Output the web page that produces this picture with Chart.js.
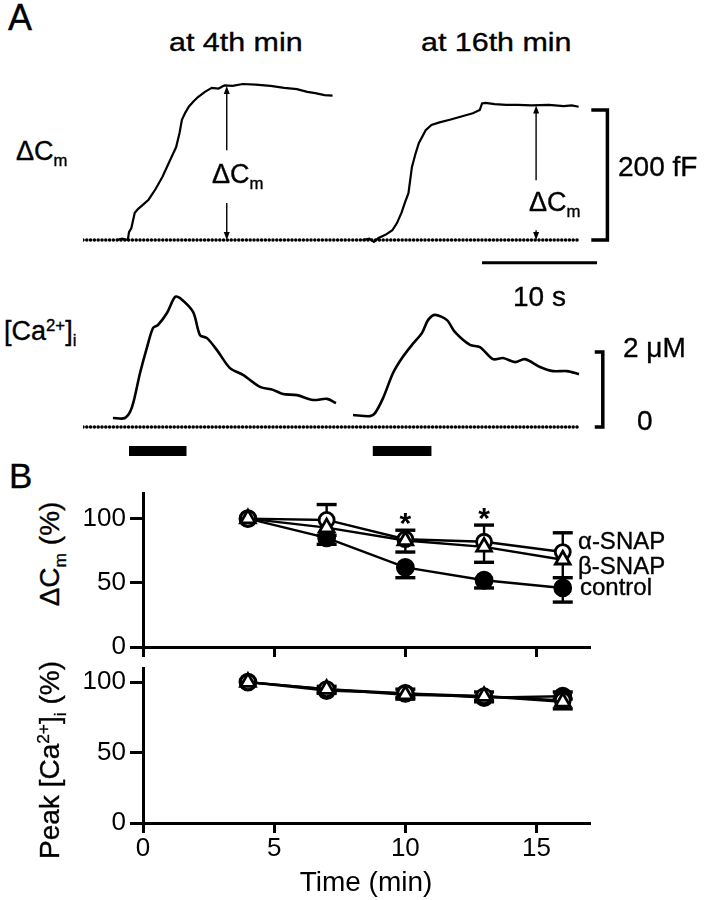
<!DOCTYPE html>
<html><head><meta charset="utf-8">
<script src="https://cdn.jsdelivr.net/npm/chart.js@4"></script>
<style>
html,body{margin:0;padding:0;background:#fff;}
body{width:706px;height:900px;position:relative;overflow:hidden;font-family:"Liberation Sans",Arial,Helvetica,sans-serif;color:#000;}
canvas{position:absolute;}
.t{position:absolute;white-space:nowrap;line-height:1;-webkit-text-stroke:0.35px #000;}
.sub{font-size:62%;position:relative;top:0.38em;}
.sup{font-size:62%;position:relative;top:-0.55em;}
.rot{position:absolute;white-space:nowrap;line-height:1;transform:translate(-50%,-50%) rotate(-90deg);-webkit-text-stroke:0.35px #000;}
</style></head><body>

<canvas id="cm" width="621" height="208" style="left:83px;top:58px"></canvas>
<canvas id="ca" width="621" height="180" style="left:83px;top:292px"></canvas>
<canvas id="bTop" width="636" height="179" style="left:70px;top:480px"></canvas>
<canvas id="bBot" width="636" height="245" style="left:70px;top:655px"></canvas>

<div class="t" style="left:8px;top:0px;font-size:36px">A</div>
<div class="t" style="left:169px;top:29px;font-size:26px;transform:scaleX(1.17);transform-origin:left">at 4th min</div>
<div class="t" style="left:421px;top:29px;font-size:26px;transform:scaleX(1.17);transform-origin:left">at 16th min</div>
<div class="t" style="left:16px;top:138px;font-size:27px">&Delta;C<span class="sub">m</span></div>
<div class="t" style="left:212px;top:161px;font-size:27px">&Delta;C<span class="sub">m</span></div>
<div class="t" style="left:529px;top:189px;font-size:27px">&Delta;C<span class="sub">m</span></div>
<div class="t" style="left:618px;top:153px;font-size:28px">200 fF</div>
<div class="t" style="left:513px;top:283px;font-size:28px">10 s</div>
<div class="t" style="left:4px;top:318px;font-size:27px">[Ca<span class="sup">2+</span>]<span class="sub">i</span></div>
<div class="t" style="left:623px;top:334px;font-size:28px">2 &mu;M</div>
<div class="t" style="left:637px;top:407px;font-size:28px">0</div>

<div class="t" style="left:9px;top:458px;font-size:35px">B</div>
<div class="rot" style="left:50px;top:554px;font-size:28px">&Delta;C<span class="sub">m</span> (%)</div>
<div class="rot" style="left:50px;top:760px;font-size:28px">Peak [Ca<span class="sup">2+</span>]<span class="sub">i</span> (%)</div>
<div class="t" style="left:578px;top:529px;font-size:24px">&alpha;-SNAP</div>
<div class="t" style="left:578px;top:554px;font-size:24px">&beta;-SNAP</div>
<div class="t" style="left:580px;top:575px;font-size:24px">control</div>

<script>
// ---------------- Panel A data (time in s) ----------------
// Capacitance traces, ΔCm in fF
const cm1Time = [2.9,3.4,3.9,4.0,4.2,4.5,4.8,5.2,5.7,6.3,6.9,7.5,8.1,8.4,8.6,8.9,9.2,9.6,10.0,10.6,11.2,11.8,12.3,13.0,13.9,15.0,16.3,17.5,18.6,19.5,20.2,21.0,21.7];
const cm1Val  = [0,2,0,12,18,42,48,54,62,78,97,120,143,165,185,196,205,213,220,228,234,233,238,237,240,239,237,234,232,228,226,223,222];
const cm2Time = [24.3,24.9,25.3,25.7,26.3,26.9,27.3,27.7,28.0,28.3,28.6,28.9,29.2,29.8,30.3,31.0,31.9,32.9,33.9,34.5,34.7,35.0,35.8,36.8,37.8,39.0,40.5,41.8,42.5,43.1];
const cm2Val  = [0,2,-3,3,8,15,26,42,58,72,112,132,149,169,177,181,185,190,195,200,210,211,209,208,208,207,208,206,207,205];
// Calcium traces, [Ca2+]i in µM
const ca1Time = [2.6,3.65,4.26,4.96,5.57,6.09,6.52,7.30,8.0,8.43,9.57,10.17,10.78,11.65,12.78,13.91,15.39,16.52,17.39,18.61,20.0,21.22,22.0];
const ca1Val  = [0.24,0.24,0.53,1.44,2.13,2.64,2.72,3.04,3.47,3.44,3.07,2.45,2.37,2.05,1.57,1.39,1.07,0.99,0.88,0.85,0.72,0.75,0.64];
const ca2Time = [23.48,24.96,25.39,26.09,26.96,27.74,28.61,29.48,30.0,30.61,31.65,32.35,33.65,34.52,35.65,36.52,37.57,38.43,39.74,40.87,42.09,43.13];
const ca2Val  = [0.32,0.29,0.37,0.77,1.44,1.84,2.19,2.51,2.85,2.99,2.85,2.53,2.19,2.13,1.81,1.84,1.73,1.81,1.60,1.49,1.49,1.41];
// Stimulus periods (s)
const stimStart = [4.0, 25.2];
const stimEnd   = [9.0, 30.3];
// ΔCm amplitude arrows: time (s) and amplitude (fF)
const arrowTime = [12.5, 39.4];
const arrowAmp  = [237, 207];
// Scale bars
const cmScaleFF = 200;   // fF
const timeScaleS = 10;   // s
const caScaleUM = 2;     // µM
const traceEnd = 43.1;   // end of recording window (s)

// ---------------- Panel B data (time in min, %) ----------------
const timeMin = [4, 7, 10, 13, 16];
const xTicksB = [0, 5, 10, 15];
const yTicksB = [0, 50, 100];
const cmAlpha = [100, 99, 84, 82, 74];
const cmAlphaErrUp = [0, 12, 7, 13, 15];
const cmBeta = [100, 93, 83, 78, 68];
const cmBetaErrDown = [0, 6, 9, 12, 14];
const cmControl = [100, 85, 62, 52, 46];
const cmControlErrDown = [0, 5, 8, 6, 11];
const sigTimes = [10, 13];
const caAlpha = [100, 95, 92, 90, 87];
const caAlphaErrUp = [0, 2, 3, 3, 6];
const caBeta = [100, 95, 91, 90, 86];
const caBetaErrDown = [0, 2, 3, 3, 5];
const caControl = [100, 94, 92, 89, 90];
const caControlErrDown = [0, 2, 3, 3, 2];

const FONT = '"Liberation Sans", Arial, Helvetica, sans-serif';
Chart.defaults.font.family = FONT;
Chart.defaults.color = '#000';
Chart.defaults.animation = false;

const pts = (xs, ys) => xs.map((x, i) => ({x, y: ys[i]}));
const line = (data, w, extra) => Object.assign({data, showLine: true, borderColor: '#000', borderWidth: w, pointRadius: 0, clip: false}, extra || {});
const hidden = (min, max) => ({type: 'linear', display: false, min, max});
const baseOpts = (xmin, xmax, ymin, ymax) => ({
  responsive: false, animation: false, events: [],
  layout: {padding: 0, autoPadding: false},
  plugins: {legend: {display: false}, tooltip: {enabled: false}},
  scales: {x: hidden(xmin, xmax), y: hidden(ymin, ymax)}
});

// ---- arrows plugin for panel A ----
const arrowPlugin = {
  id: 'arrows',
  afterDatasetsDraw(chart) {
    const {ctx, scales: {x, y}} = chart;
    const gaps = [[138, 57], [92, 15]];
    ctx.save();
    ctx.strokeStyle = '#000'; ctx.fillStyle = '#000'; ctx.lineWidth = 1.4;
    arrowTime.forEach((t, i) => {
      const px = x.getPixelForValue(t);
      const top = y.getPixelForValue(arrowAmp[i]);
      const bot = y.getPixelForValue(0);
      const g1 = y.getPixelForValue(gaps[i][0]);
      const g2 = y.getPixelForValue(gaps[i][1]);
      ctx.beginPath(); ctx.moveTo(px, top + 6); ctx.lineTo(px, g1); ctx.stroke();
      ctx.beginPath(); ctx.moveTo(px, g2); ctx.lineTo(px, bot - 6); ctx.stroke();
      ctx.beginPath(); ctx.moveTo(px, top); ctx.lineTo(px - 3, top + 8); ctx.lineTo(px + 3, top + 8); ctx.closePath(); ctx.fill();
      ctx.beginPath(); ctx.moveTo(px, bot); ctx.lineTo(px - 3, bot - 8); ctx.lineTo(px + 3, bot - 8); ctx.closePath(); ctx.fill();
    });
    ctx.restore();
  }
};

// ---- Panel A: capacitance ----
new Chart(document.getElementById('cm'), {
  type: 'scatter',
  data: {datasets: [
    line([{x: 0, y: 0}, {x: traceEnd, y: 0}], 3.6, {borderDash: [0, 3.8], borderCapStyle: 'round'}),
    line(pts(cm1Time, cm1Val), 2.2),
    line(pts(cm2Time, cm2Val), 2.2),
    line([{x: 44.2, y: cmScaleFF}, {x: 45.6, y: cmScaleFF}, {x: 45.6, y: 0}, {x: 44.2, y: 0}], 3.5, {borderJoinStyle: 'miter'}),
    line([{x: 44.7 - timeScaleS, y: -35}, {x: 44.7, y: -35}], 3)
  ]},
  options: baseOpts(0, 54, -40, 280),
  plugins: [arrowPlugin]
});

// ---- Panel A: calcium ----
const caSets = [
  line([{x: 0, y: 0}, {x: traceEnd, y: 0}], 3.6, {borderDash: [0, 3.8], borderCapStyle: 'round'}),
  line(pts(ca1Time, ca1Val), 2.6, {tension: 0.3}),
  line(pts(ca2Time, ca2Val), 2.6, {tension: 0.3}),
  line([{x: 44.5, y: caScaleUM}, {x: 45.2, y: caScaleUM}, {x: 45.2, y: 0}, {x: 44.5, y: 0}], 3.5, {borderJoinStyle: 'miter'})
];
stimStart.forEach((s, i) => caSets.push(line([{x: s, y: -0.64}, {x: stimEnd[i], y: -0.64}], 10)));
new Chart(document.getElementById('ca'), {
  type: 'scatter',
  data: {datasets: caSets},
  options: baseOpts(0, 54, -1.2, 3.6)
});

// ---- Panel B ----
const errPlugin = {
  id: 'errbars',
  beforeDatasetsDraw(chart) {
    const {ctx, scales: {x, y}} = chart;
    ctx.save();
    ctx.strokeStyle = '#000';
    chart.data.datasets.forEach(ds => {
      const err = ds.errUp || ds.errDown; if (!err) return;
      const sign = ds.errUp ? 1 : -1;
      ds.data.forEach((p, i) => {
        if (!err[i]) return;
        const px = x.getPixelForValue(p.x);
        const py = y.getPixelForValue(p.y);
        const pe = y.getPixelForValue(p.y + sign * err[i]);
        ctx.lineWidth = 2.4;
        ctx.beginPath(); ctx.moveTo(px, py); ctx.lineTo(px, pe); ctx.stroke();
        ctx.lineWidth = 3.4;
        ctx.beginPath(); ctx.moveTo(px - 10, pe); ctx.lineTo(px + 10, pe); ctx.stroke();
      });
    });
    ctx.restore();
  },
  afterDatasetsDraw(chart, args, opts) {
    if (!opts.stars) return;
    const {ctx, scales: {x, y}} = chart;
    ctx.save();
    ctx.font = 'bold 30px ' + FONT;
    ctx.textAlign = 'center'; ctx.textBaseline = 'alphabetic'; ctx.fillStyle = '#000';
    opts.stars.forEach(t => {
      const i = timeMin.indexOf(t);
      const top = y.getPixelForValue(cmAlpha[i] + cmAlphaErrUp[i]);
      ctx.fillText('*', x.getPixelForValue(t), top - 14 + 17);
    });
    ctx.restore();
  }
};

function bSets(alpha, aUp, beta, bDown, ctrl, cDown) {
  const common = {showLine: true, borderColor: '#000', borderWidth: 2.4, pointBorderColor: '#000', pointBorderWidth: 2.8, clip: false};
  return [
    Object.assign({}, common, {data: pts(timeMin, beta), errDown: bDown, pointStyle: 'triangle', pointRadius: 8.5, pointBackgroundColor: '#fff'}),
    Object.assign({}, common, {data: pts(timeMin, alpha), errUp: aUp, pointStyle: 'circle', pointRadius: 7.5, pointBackgroundColor: '#fff'}),
    Object.assign({}, common, {data: pts(timeMin, ctrl), errDown: cDown, pointStyle: 'circle', pointRadius: 8, pointBackgroundColor: '#000'})
  ];
}

function bOpts(ymax, showX, stars) {
  return {
    responsive: false, animation: false, events: [],
    layout: {padding: {left: 0, right: 117, top: 13, bottom: 0}, autoPadding: false},
    plugins: {legend: {display: false}, tooltip: {enabled: false}, errbars: {stars}},
    scales: {
      x: {
        type: 'linear', min: 0, max: 17,
        afterBuildTicks: s => { s.ticks = xTicksB.map(v => ({value: v})); },
        afterFit: s => { s.height = showX ? 77 : 12; s.paddingLeft = 0; s.paddingRight = 0; },
        border: {display: true, color: '#000', width: 3},
        grid: {display: true, drawOnChartArea: false, drawTicks: true, tickLength: 10, color: '#000', lineWidth: 3},
        ticks: {display: showX, padding: 0, font: {size: 26}, color: '#000', maxRotation: 0},
        title: {display: showX, text: 'Time (min)', font: {size: 28}, color: '#000', padding: {top: 2, bottom: 0}}
      },
      y: {
        type: 'linear', min: 0, max: ymax,
        afterBuildTicks: s => { s.ticks = yTicksB.map(v => ({value: v})); },
        afterFit: s => { s.width = 73; s.paddingTop = 0; s.paddingBottom = 0; },
        border: {display: true, color: '#000', width: 3},
        grid: {display: true, drawOnChartArea: false, drawTicks: true, tickLength: 13, color: '#000', lineWidth: 3},
        ticks: {padding: 4, font: {size: 26}, color: '#000'}
      }
    }
  };
}

new Chart(document.getElementById('bTop'), {
  type: 'scatter',
  data: {datasets: bSets(cmAlpha, cmAlphaErrUp, cmBeta, cmBetaErrDown, cmControl, cmControlErrDown)},
  options: bOpts(120, false, sigTimes),
  plugins: [errPlugin]
});
new Chart(document.getElementById('bBot'), {
  type: 'scatter',
  data: {datasets: bSets(caAlpha, caAlphaErrUp, caBeta, caBetaErrDown, caControl, caControlErrDown)},
  options: bOpts(110, true, null),
  plugins: [errPlugin]
});
</script>
</body></html>
